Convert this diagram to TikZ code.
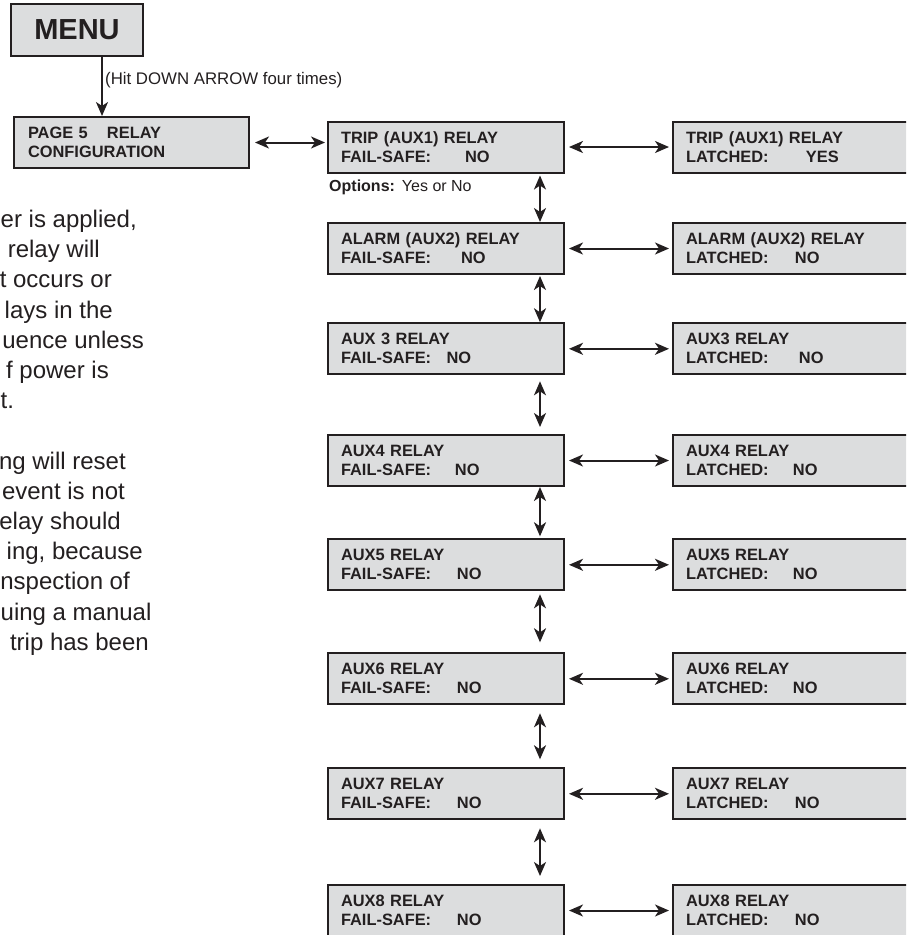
\documentclass[tikz,border=0pt]{standalone}
\usepackage{fontspec}
\setmainfont{Liberation Sans}
\usetikzlibrary{arrows.meta}
\definecolor{ink}{RGB}{35,31,32}
\definecolor{boxfill}{RGB}{220,221,222}
\newcommand\fsline[1]{\makebox[#1pt][l]{FAIL-SAFE:}}
\newcommand\latline[1]{\makebox[#1pt][l]{LATCHED:}}
\tikzset{
  pane/.style={draw=ink, line width=2pt, fill=boxfill, rectangle, inner xsep=13pt, inner ysep=0pt,
    minimum height=51pt, text width=210pt, align=left,
    font=\fontsize{16.4}{19}\selectfont\bfseries, text=ink, anchor=west},
  rpane/.style={pane, text width=274pt},
  biarrow/.style={draw=ink, line width=2pt, {Stealth[length=14pt,width=12pt,inset=4pt]}-{Stealth[length=14pt,width=12pt,inset=4pt]}},
  onearrow/.style={draw=ink, line width=2pt, -{Stealth[length=14pt,width=12pt,inset=4pt]}},
  para/.style={anchor=base east, inner sep=0pt, font=\fontsize{24}{28}\selectfont, text=ink},
  paral/.style={para, anchor=base west},
}
\begin{document}
\begin{tikzpicture}[x=1pt,y=-1pt]
\useasboundingbox (0,0) rectangle (906,935);
\clip (0,0) rectangle (906,935);
\fill[white] (0,0) rectangle (906,935);

% MENU
\node[draw=ink, line width=2pt, fill=boxfill, minimum width=132pt, minimum height=52pt, inner sep=0pt,
  font=\fontsize{29}{34}\selectfont\bfseries, text=ink] (menu) at (77,30) {MENU};
\coordinate (mx) at (102,0);

% PAGE 5
\node[pane, text width=207pt, inner xsep=14pt] (p5) at (13,142.5)
  {\makebox[79pt][l]{PAGE 5}RELAY\\CONFIGURATION};

\draw[onearrow] (menu.south -| mx) -- (p5.north -| mx);
\node[anchor=west, inner sep=0pt, font=\fontsize{16.8}{20}\selectfont, text=ink] (hit) at (105,80) {(Hit DOWN ARROW four times)};

% left column
\node[pane] (l1) at (327,147)   {TRIP (AUX1) RELAY\\\fsline{124}NO};
\node[pane] (l2) at (327,248.5) {ALARM (AUX2) RELAY\\\fsline{120}NO};
\node[pane] (l3) at (327,348.8) {AUX 3 RELAY\\\fsline{105.5}NO};
\node[pane] (l4) at (327,460.5) {AUX4 RELAY\\\fsline{114}NO};
\node[pane] (l5) at (327,564.8) {AUX5 RELAY\\\fsline{116}NO};
\node[pane] (l6) at (327,678.8) {AUX6 RELAY\\\fsline{116}NO};
\node[pane] (l7) at (327,793.8) {AUX7 RELAY\\\fsline{116}NO};
\node[pane] (l8) at (327,910.5) {AUX8 RELAY\\\fsline{116}NO};

% right column
\node[rpane] (r1) at (672,147)   {TRIP (AUX1) RELAY\\\latline{120}YES};
\node[rpane] (r2) at (672,248.5) {ALARM (AUX2) RELAY\\\latline{109}NO};
\node[rpane] (r3) at (672,348.8) {AUX3 RELAY\\\latline{113}NO};
\node[rpane] (r4) at (672,460.5) {AUX4 RELAY\\\latline{107}NO};
\node[rpane] (r5) at (672,564.8) {AUX5 RELAY\\\latline{107}NO};
\node[rpane] (r6) at (672,678.8) {AUX6 RELAY\\\latline{107}NO};
\node[rpane] (r7) at (672,793.8) {AUX7 RELAY\\\latline{109}NO};
\node[rpane] (r8) at (672,910.5) {AUX8 RELAY\\\latline{109}NO};

\node[anchor=base west, inner sep=0pt, font=\fontsize{16}{19}\selectfont, text=ink] (opt) at (329,191)
  {\textbf{Options:}\hspace{7pt}Yes or No};

% horizontal arrows
\draw[biarrow, shorten <=5pt, shorten >=2pt] (p5.east) -- (p5.east -| l1.west);
\foreach \i in {1,...,8} {
  \draw[biarrow, shorten <=4pt, shorten >=3pt] (l\i.east) -- (r\i.west);
}

% vertical arrows
\coordinate (vx) at (540,0);
\draw[biarrow, shorten <=2pt, shorten >=0pt] (l1.south -| vx) -- (l2.north -| vx);
\draw[biarrow, shorten <=1pt, shorten >=0pt] (l2.south -| vx) -- (l3.north -| vx);
\draw[biarrow, shorten <=6pt, shorten >=7pt] (l3.south -| vx) -- (l4.north -| vx);
\draw[biarrow, shorten <=0pt, shorten >=2pt] (l4.south -| vx) -- (l5.north -| vx);
\draw[biarrow, shorten <=3pt, shorten >=10pt] (l5.south -| vx) -- (l6.north -| vx);
\draw[biarrow, shorten <=8pt, shorten >=8pt] (l6.south -| vx) -- (l7.north -| vx);
\draw[biarrow, shorten <=8pt, shorten >=8pt] (l7.south -| vx) -- (l8.north -| vx);

% paragraph fragments (left part lies outside the picture)
\node[paral] (t0)  at (0.5,227.5) {er is applied,};
\node[para]  (t1)  at (100,257.7) {relay will};
\node[para]  (t2)  at (112,287.9) {t occurs or};
\node[para]  (t3)  at (113,318.1) {lays in the};
\node[para]  (t4)  at (144,348.3) {uence unless};
\node[para]  (t5)  at (109,378.5) {f power is};
\node[paral] (t6)  at (0.5,408.7) {t.};
\node[para]  (t8)  at (126,469.1) {ng will reset};
\node[para]  (t9)  at (125,499.3) {event is not};
\node[para]  (t10) at (121,529.5) {elay should};
\node[para]  (t11) at (143,559.7) {ing, because};
\node[para]  (t12) at (130,589.9) {nspection of};
\node[paral] (t13) at (0.5,620.1) {uing a manual};
\node[para]  (t14) at (149,650.3) {trip has been};
\end{tikzpicture}
\end{document}
